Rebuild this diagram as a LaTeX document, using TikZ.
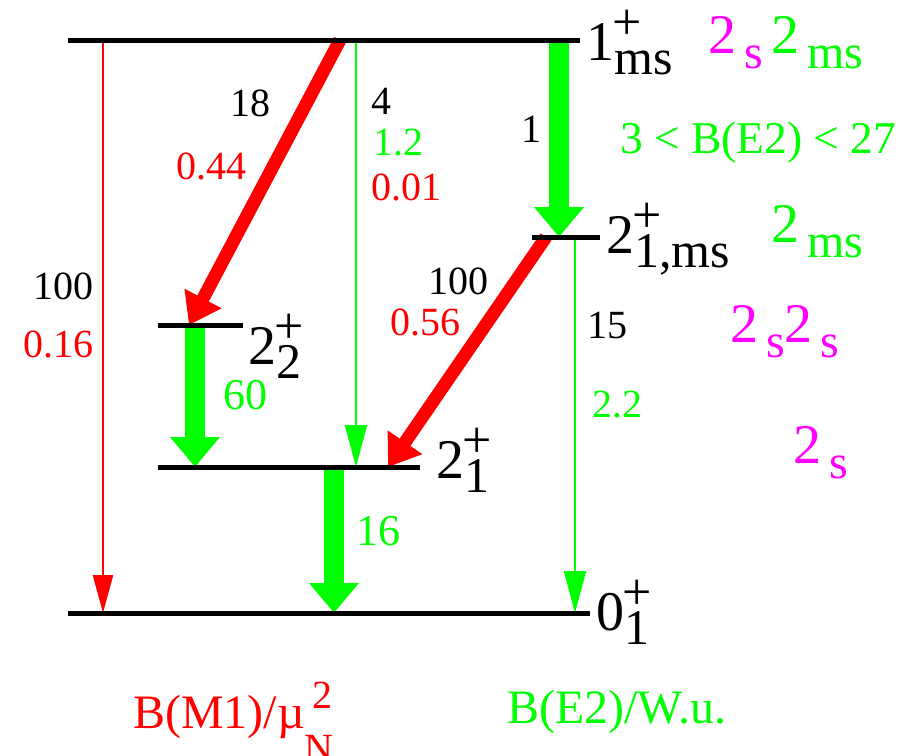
\documentclass[tikz,border=0pt]{standalone}
\usepackage{fontspec}
\setmainfont{Liberation Serif}
\usetikzlibrary{arrows.meta}
\usetikzlibrary{positioning}
\usetikzlibrary{backgrounds}
\definecolor{mone}{rgb}{1,0,0}
\definecolor{etwo}{rgb}{0,1,0}
\definecolor{bosn}{rgb}{1,0,1}

\newcommand{\jlev}[3]{#1\rlap{\kern-.03em\raisebox{.36em}{\fontsize{52}{52}\selectfont #2}}\raisebox{-.26em}{\fontsize{50}{50}\selectfont #3}}
\newcommand{\bsub}[2]{#1\kern.14em\raisebox{-.27em}{\fontsize{48}{48}\selectfont #2}}

\begin{document}
\begin{tikzpicture}[x=1pt, y=-1pt,
		lvl/.style = {fill=black, inner sep=0pt, minimum height=5pt, anchor=west},
		num/.style = {inner sep=0pt, font=\rmfamily\fontsize{40}{40}\selectfont},
		big/.style = {inner sep=0pt, anchor=base west, font=\rmfamily\fontsize{56}{56}\selectfont},
		mt/.style  = {draw=mone, line width=2.5pt, -{Triangle[width=20pt,length=38pt]}},
		mf/.style  = {draw=mone, line width=13pt, -{Triangle[width=40pt,length=30pt]}},
		et/.style  = {draw=etwo, line width=2pt, -{Triangle[width=22pt,length=42pt]}},
		ef/.style  = {draw=etwo, line width=20pt, -{Triangle[width=48pt,length=30pt]}},
		]
		\useasboundingbox (0,0) rectangle (918,755);
		
		% levels
		\node[lvl, minimum width=512pt]	(g1ms)	at (68,40)	{};
		\node[lvl, minimum width=68pt]	(g21ms)	at (532,237)	{};
		\node[lvl, minimum width=85pt]	(g22)	at (158,325)	{};
		\node[lvl, minimum width=262pt]	(g21)	at (158,467)	{};
		\node[lvl, minimum width=522pt]	(g01)	at (68,613)	{};
		
		% transitions
		\begin{scope}[on background layer]
		\draw[mt]	([xshift=35pt]g1ms.west)	--	([xshift=35pt]g01.west);
		\draw[mf]	([xshift=272pt]g1ms.west)	--	([xshift=31pt]g22.west);
		\draw[et]	([xshift=288pt]g1ms.west)	--	([xshift=198pt]g21.west);
		\draw[ef]	([xshift=491pt]g1ms.west)	--	([xshift=27pt]g21ms.west);
		\draw[mf]	([xshift=14pt]g21ms.west)	--	([xshift=230pt]g21.west);
		\draw[ef]	([xshift=37pt]g22.west)	--	([xshift=37pt]g21.west);
		\draw[et]	([xshift=43pt]g21ms.west)	--	([xshift=507pt]g01.west);
		\draw[ef]	([xshift=176pt]g21.west)	--	([xshift=266pt]g01.west);
		\end{scope}
		
		% level labels
		\node[big]	(l1ms)	at (586,60)	{\jlev{1}{+}{ms}};
		\node[big]	(l21ms)	at (606,253)	{\jlev{2}{+}{1,ms}};
		\node[big]	(l22)	at (248,364)	{\jlev{2}{+}{2}};
		\node[big]	(l21)	at (436,478)	{\jlev{2}{+}{1}};
		\node[big]	(l01)	at (596,630)	{\jlev{0}{+}{1}};
		
		% configurations
		\node[big, bosn]	(c1s)	at (708,53)	{\bsub{2}{s}};
		\node[big, etwo]	(c1ms)	at (771,53)	{\bsub{2}{ms}};
		\node[big, etwo, font=\rmfamily\fontsize{45.5}{45.5}\selectfont]	(cbe)	at (620,153)	{3 < B(E2) < 27};
		\node[big, etwo]	(c2ms)	at (771,242)	{\bsub{2}{ms}};
		\node[big, bosn]	(c2ss)	at (730,342)	{\bsub{2}{s}\bsub{2}{s}};
		\node[big, bosn]	(c2s)	at (793,463)	{\bsub{2}{s}};
		
		% intensities and strengths
		\node[num]	(t18)	at (250,103)	{18};
		\node[num, mone]	(t044)	at (211,166)	{0.44};
		\node[num, anchor=west]	(t4)	at (371,101)	{4};
		\node[num, etwo, anchor=west]	(t12)	at (373,143)	{1.2};
		\node[num, mone, anchor=west]	(t001)	at (371,187)	{0.01};
		\node[num]	(t1)	at (531,129)	{1};
		\node[num, anchor=east]	(t100a)	at (94,286)	{100};
		\node[num, mone, anchor=east]	(t016)	at (94,344)	{0.16};
		\node[num]	(t100b)	at (458,281)	{100};
		\node[num, mone]	(t056)	at (425,322)	{0.56};
		\node[num]	(t15)	at (607,325)	{15};
		\node[num, etwo]	(t22)	at (617,405)	{2.2};
		\node[num, etwo, font=\rmfamily\fontsize{44}{44}\selectfont]	(t60)	at (245,395)	{60};
		\node[num, etwo, font=\rmfamily\fontsize{44}{44}\selectfont]	(t16)	at (378,531)	{16};
		
		% units
		\node[big, mone, font=\rmfamily\fontsize{48}{48}\selectfont]	(um1)	at (133,728)	{B(M1)/µ\rlap{\kern.15em\raisebox{.4em}{\fontsize{40}{40}\selectfont 2}}\raisebox{-.7em}{\fontsize{40}{40}\selectfont N}};
		\node[big, etwo, font=\rmfamily\fontsize{48}{48}\selectfont]	(ue2)	at (507,723)	{B(E2)/W.u.};
	\end{tikzpicture}
\end{document}
